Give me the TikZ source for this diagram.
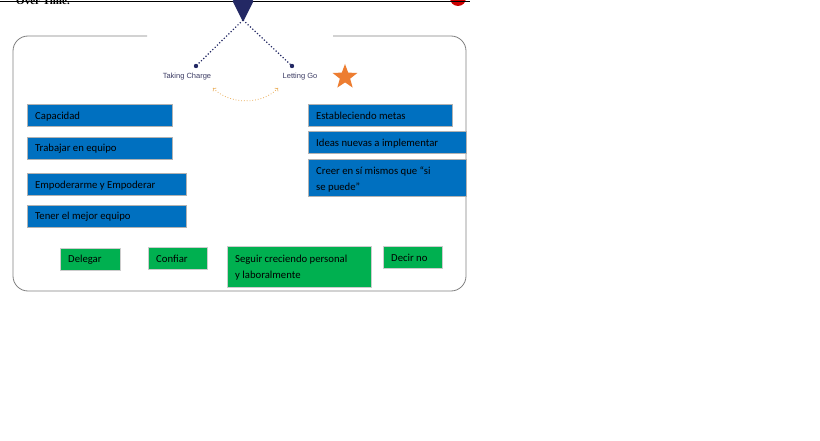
\documentclass[tikz,border=0pt]{standalone}
\usepackage{fontspec}
\setmainfont{Carlito}
\newfontfamily\lab{Liberation Sans}
\newfontfamily\ser{Liberation Serif}
\usetikzlibrary{shapes.geometric}
\definecolor{navy}{RGB}{35,40,100}
\definecolor{bblue}{RGB}{0,112,192}
\definecolor{bgreen}{RGB}{0,176,80}
\definecolor{orng}{RGB}{237,125,49}
\definecolor{lorng}{RGB}{235,175,90}
\definecolor{labc}{RGB}{60,60,100}
\begin{document}
\begin{tikzpicture}[x=1pt,y=-1pt,
 bluebox/.style={draw=black!30,fill=bblue,minimum height=22pt,anchor=north west,inner sep=0pt},
 greenbox/.style={draw=black!20,fill=bgreen,minimum height=22pt,anchor=north west,inner sep=0pt},
 txt/.style={anchor=west,font=\fontsize{10.7}{16}\selectfont,align=left,inner sep=0pt,xshift=8pt,yshift=-1pt},
 tlab/.style={font=\lab\fontsize{7.5}{8}\selectfont,text=labc}]
\useasboundingbox (0,0) rectangle (820,441);
\fill[white] (0,0) rectangle (820,441);
\begin{scope}
\clip (0,0) rectangle (820,441);
\node[anchor=west,font=\ser\bfseries\fontsize{11}{11}\selectfont,inner sep=0pt] (ot) at (16,1) {Over Time.};
\fill[red!80!black] (458,-2) circle (8);
\end{scope}
\draw[black,line width=1pt] (0,1.5) -- (470,1.5);
\draw[gray,line width=0.8pt,rounded corners=15pt] (147,36) -- (13,36) -- (13,291) -- (466,291) -- (466,36) -- (333,36);
\fill[navy,rounded corners=2pt] (232,0) -- (254,0) -- (243,22) -- cycle;
\coordinate (apex) at (243,20);
\fill[navy] (196,66) circle (2.2) coordinate (d1) (292,66) circle (2.2) coordinate (d2);
\draw[navy,line width=1.2pt,dotted] (apex) -- (d1) (apex) -- (d2);
\node[tlab] (tc) at (187,77) {Taking Charge};
\node[tlab] (lg) at (300,77) {Letting Go};
\draw[lorng,line width=0.8pt,dotted,<->] (213,88) .. controls (230,105) and (262,105) .. (278,88);
\node[star,star points=5,star point ratio=2.4,fill=orng,minimum size=26pt,inner sep=0pt] (st) at (345,77) {};
\node[bluebox,minimum width=145pt] (b1) at (27,104) {};
\node[txt] (t1) at (b1.west) {Capacidad};
\node[bluebox,minimum width=145pt] (b2) at (27,137) {};
\node[txt] (t2) at (b2.west) {Trabajar en equipo};
\node[bluebox,minimum width=159pt] (b3) at (27,173) {};
\node[txt] (t3) at (b3.west) {Empoderarme y Empoderar};
\node[bluebox,minimum width=159pt] (b4) at (27,205) {};
\node[txt] (t4) at (b4.west) {Tener el mejor equipo};
\node[bluebox,minimum width=144pt] (b5) at (308,104) {};
\node[txt] (t5) at (b5.west) {Estableciendo metas};
\node[bluebox,minimum width=158pt] (b6) at (308,131) {};
\node[txt] (t6) at (b6.west) {Ideas nuevas a implementar};
\node[bluebox,minimum width=158pt,minimum height=37pt] (b7) at (308,159) {};
\node[txt,yshift=-1pt] (t7) at (b7.west) {Creer en sí mismos que “si\\se puede”};
\node[greenbox,minimum width=60pt] (g1) at (60,248) {};
\node[txt] (u1) at (g1.west) {Delegar};
\node[greenbox,minimum width=59pt] (g2) at (148,247) {};
\node[txt] (u2) at (g2.west) {Confiar};
\node[greenbox,minimum width=144pt,minimum height=41pt] (g3) at (227,246) {};
\node[txt] (u3) at (g3.west) {Seguir creciendo personal\\y laboralmente};
\node[greenbox,minimum width=59pt] (g4) at (383,246) {};
\node[txt] (u4) at (g4.west) {Decir no};
\end{tikzpicture}
\end{document}
